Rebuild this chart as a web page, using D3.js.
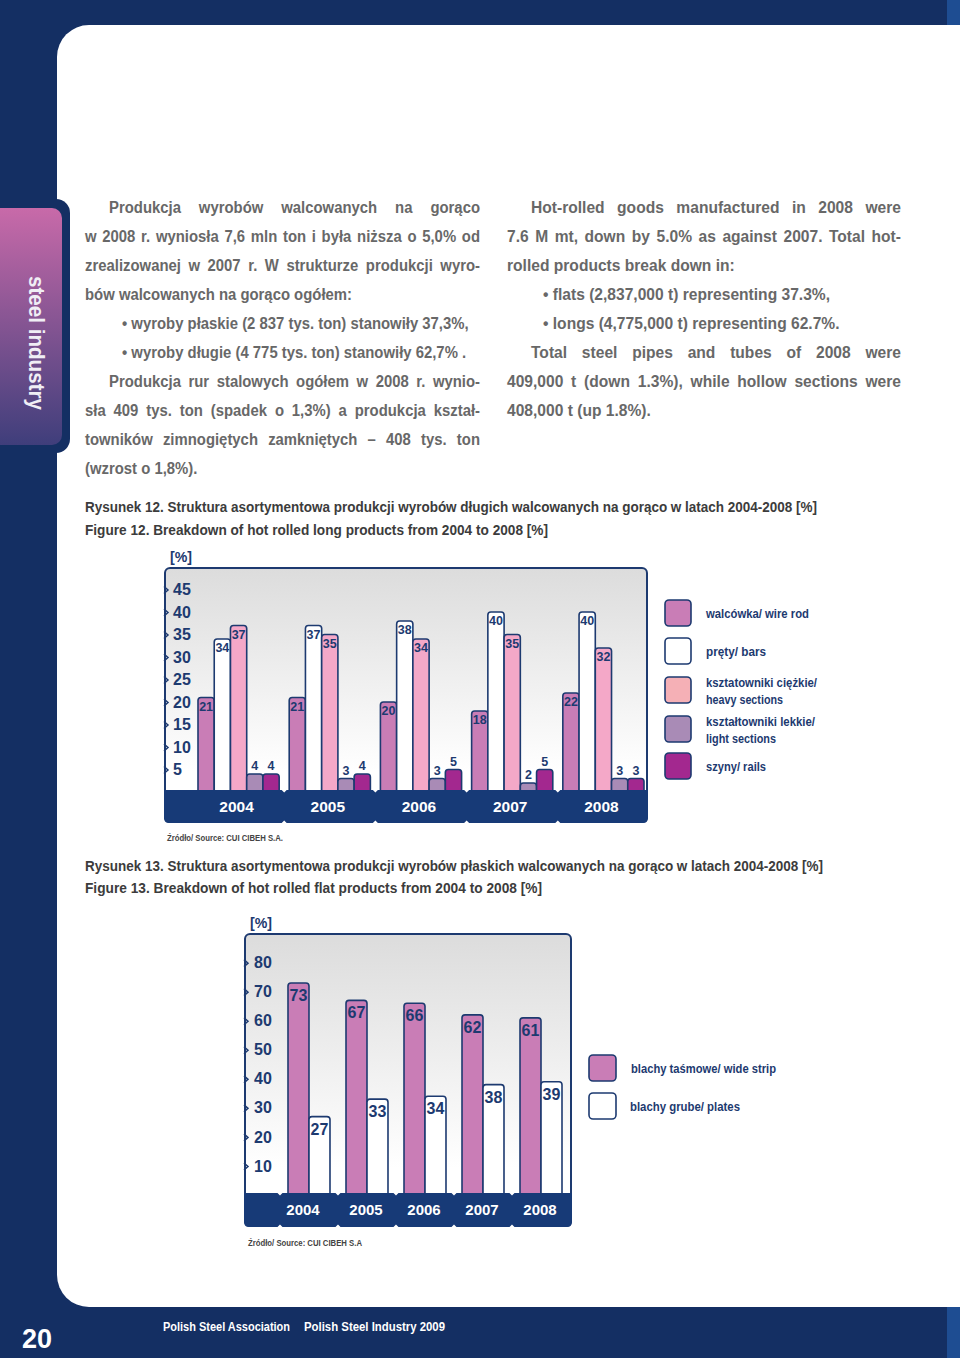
<!DOCTYPE html>
<html><head><meta charset="utf-8">
<script src="https://cdn.jsdelivr.net/npm/d3@7"></script>
<style>body{margin:0;background:#142f63} svg{display:block}</style>
</head><body><svg id="c" width="960" height="1358"></svg>
<script>
// ---------- DATA ----------
const years = ["2004","2005","2006","2007","2008"];
const longSeries = ["walcówka/ wire rod","pręty/ bars","ksztatowniki ciężkie/ heavy sections","kształtowniki lekkie/ light sections","szyny/ rails"];
const wireRod = [21,21,20,18,22];
const barsProd = [34,37,38,40,40];
const heavySections = [37,35,34,35,32];
const lightSections = [4,3,3,2,3];
const rails = [4,4,5,5,3];
const longTicks = [5,10,15,20,25,30,35,40,45];
const flatSeries = ["blachy taśmowe/ wide strip","blachy grube/ plates"];
const wideStrip = [73,67,66,62,61];
const plates = [27,33,34,38,39];
const flatTicks = [10,20,30,40,50,60,70,80];

const leftText = [
  ["Produkcja wyrobów walcowanych na gorąco", "ind", true],
  ["w 2008 r. wyniosła 7,6 mln ton i była niższa o 5,0% od", "", true],
  ["zrealizowanej w 2007 r. W strukturze produkcji wyro-", "", true],
  ["bów walcowanych na gorąco ogółem:", "", false],
  ["• wyroby płaskie (2 837 tys. ton) stanowiły 37,3%,", "bul", false],
  ["• wyroby długie (4 775 tys. ton) stanowiły 62,7% .", "bul", false],
  ["Produkcja rur stalowych ogółem w 2008 r. wynio-", "ind", true],
  ["sła 409 tys. ton (spadek o 1,3%) a produkcja kształ-", "", true],
  ["towników zimnogiętych zamkniętych – 408 tys. ton", "", true],
  ["(wzrost o 1,8%).", "", false]
];
const rightText = [
  ["Hot-rolled goods manufactured in 2008 were", "ind", true],
  ["7.6 M mt, down by 5.0% as against 2007. Total hot-", "", true],
  ["rolled products break down in:", "", false],
  ["• flats (2,837,000 t) representing 37.3%,", "bul", false],
  ["• longs (4,775,000 t) representing 62.7%.", "bul", false],
  ["Total steel pipes and tubes of 2008 were", "ind", true],
  ["409,000 t (down 1.3%), while hollow sections were", "", true],
  ["408,000 t (up 1.8%).", "", false]
];

// ---------- STYLE ----------
const F = "'Liberation Sans',Arial,sans-serif";
const BG = "#142f63", NAVY = "#1d3a70", BAND = "#173a77";
const longColors = ["#c97db6","#ffffff","#f4a8c8","#a98bb6","#a3288f"];
const legendColors1 = ["#c97db6","#ffffff","#f5b0b6","#a98bb6","#a3288f"];
const flatColors = ["#c97db6","#ffffff"];

const svg = d3.select("#c").style("font-family", F);
function fit(sel, w){ return sel.attr("textLength",w).attr("lengthAdjust","spacingAndGlyphs"); }
const defs = svg.append("defs");
const tg = defs.append("linearGradient").attr("id","tab").attr("x1",0).attr("y1",0).attr("x2",0).attr("y2",1);
tg.append("stop").attr("offset",0).attr("stop-color","#c86aa9");
tg.append("stop").attr("offset",1).attr("stop-color","#3f3e7b");
const fg = defs.append("linearGradient").attr("id","frame").attr("x1",0).attr("y1",0).attr("x2",0).attr("y2",1);
fg.append("stop").attr("offset",0).attr("stop-color","#dcdcdc");
fg.append("stop").attr("offset",0.8).attr("stop-color","#ffffff");

// page
svg.append("rect").attr("width",960).attr("height",1358).attr("fill",BG);
svg.append("rect").attr("x",947).attr("y",0).attr("width",13).attr("height",1358).attr("fill","#1e4d92");
svg.append("rect").attr("x",57).attr("y",25).attr("width",940).attr("height",1282).attr("rx",32).attr("fill","#fff");
// sidebar tab
svg.append("rect").attr("x",-20).attr("y",199).attr("width",90).attr("height",254).attr("rx",14).attr("fill",BG);
svg.append("rect").attr("x",-20).attr("y",208).attr("width",82).attr("height",237).attr("rx",10).attr("fill","url(#tab)");
fit(svg.append("text").attr("transform","translate(29,343) rotate(90)").attr("text-anchor","middle")
  .attr("font-size",22).attr("font-weight","bold").attr("fill","#f0eef5").text("steel industry"), 134);

// footer
svg.append("text").attr("x",22).attr("y",1348).attr("font-size",27).attr("font-weight","bold").attr("fill","#fff").text("20");
fit(svg.append("text").attr("x",163).attr("y",1331).attr("font-size",12.5).attr("font-weight","bold").attr("fill","#fff").text("Polish Steel Association"),127);
fit(svg.append("text").attr("x",304).attr("y",1331).attr("font-size",12.5).attr("font-weight","bold").attr("fill","#fff").text("Polish Steel Industry 2009"),141);

// ---------- BODY TEXT ----------
function column(lines, x0, x1, ind, bul, refs) {
  const g = svg.append("g").attr("font-size",17).attr("font-weight","bold").attr("fill","#686868");
  const ratios = refs.map(([idx, w]) => {
    const tmp = g.append("text").text(lines[idx][0]);
    const r = w / tmp.node().getComputedTextLength();
    tmp.remove();
    return r;
  });
  const sx = d3.mean(ratios);
  lines.forEach((l,i) => {
    const xs = l[1]==="ind" ? ind : (l[1]==="bul" ? bul : x0);
    const t = g.append("text").attr("transform",`translate(${xs},${212.5+29*i}) scale(${sx},1)`).text(l[0]);
    if (l[2]) {
      const w = t.node().getComputedTextLength();
      const n = l[0].split(" ").length-1;
      t.attr("word-spacing", ((x1-xs)/sx-w)/n);
    }
  });
}
column(leftText, 85, 480, 109, 122, [[3,260],[4,356]]);
column(rightText, 507, 901, 531, 543, [[2,226],[3,290]]);

// captions
function cap(txt, x, y, w) {
  fit(svg.append("text").attr("x",x).attr("y",y).attr("font-size",14.5).attr("font-weight","bold").attr("fill","#3c3c3c").text(txt), w);
}
cap("Rysunek 12. Struktura asortymentowa produkcji wyrobów długich walcowanych na gorąco w latach 2004-2008 [%]",85,512,732);
cap("Figure 12. Breakdown of hot rolled long products from 2004 to 2008 [%]",85,535,463);
cap("Rysunek 13. Struktura asortymentowa produkcji wyrobów płaskich walcowanych na gorąco w latach 2004-2008 [%]",85,871,738);
cap("Figure 13. Breakdown of hot rolled flat products from 2004 to 2008 [%]",85,893,457);

function topRounded(x,y,w,h,r){
  r = Math.min(r, h);
  return `M${x},${y+h}V${y+r}Q${x},${y} ${x+r},${y}H${x+w-r}Q${x+w},${y} ${x+w},${y+r}V${y+h}Z`;
}
function bottomBand(x0,x1,yt,yb,r){
  return `M${x0},${yt}H${x1}V${yb-r}Q${x1},${yb} ${x1-r},${yb}H${x0+r}Q${x0},${yb} ${x0},${yb-r}Z`;
}
function notch(sx, yt, yb){
  return `M${sx-2.5},${yt}L${sx},${yt+2.5}L${sx+2.5},${yt}Z M${sx-2.5},${yb}L${sx},${yb-2.5}L${sx+2.5},${yb}Z`;
}

// ---------- CHART 1 ----------
(function(){
  const L=165,R=647,T=568,B=822,BT=790;
  const y = d3.scaleLinear().domain([0,50]).range([792,567]);
  const x = d3.scaleBand().domain(years).range([198,644]).paddingInner(0.11);
  const xs = d3.scaleBand().domain(d3.range(5)).range([0,x.bandwidth()]);
  const series = [wireRod,barsProd,heavySections,lightSections,rails];
  fit(svg.append("text").attr("x",170).attr("y",562).attr("font-size",14.5).attr("font-weight","bold").attr("fill",NAVY).text("[%]"),22);
  svg.append("rect").attr("x",L).attr("y",T).attr("width",R-L).attr("height",B-T).attr("rx",5)
    .attr("fill","url(#frame)").attr("stroke",NAVY).attr("stroke-width",2);
  const ax = svg.append("g").attr("transform",`translate(${L},0)`)
    .call(d3.axisRight(y).tickValues(longTicks).tickSize(0).tickPadding(8));
  ax.select(".domain").remove();
  ax.selectAll("text").attr("font-size",16).attr("font-weight","bold").attr("fill",NAVY).attr("font-family",F);
  ax.selectAll(".tick").append("path").attr("d","M-1,-3.5L3,0L-1,3.5").attr("fill","none").attr("stroke",NAVY).attr("stroke-width",1.5);
  const g = svg.append("g");
  years.forEach((yr,i) => {
    series.forEach((s,j) => {
      const v = s[i], bx = x(yr)+xs(j), bw = xs.bandwidth(), by = y(v);
      g.append("path").attr("d",topRounded(bx,by,bw,BT+1-by,3)).attr("fill",longColors[j]).attr("stroke",NAVY).attr("stroke-width",1.6);
      g.append("text").attr("x",bx+bw/2).attr("y", v>=10 ? by+13 : by-4).attr("text-anchor","middle")
        .attr("font-size",12.5).attr("font-weight","bold").attr("fill",NAVY).text(v);
    });
  });
  svg.append("path").attr("d",bottomBand(L-1,R+1,BT,B+1,5)).attr("fill",BAND);
  years.forEach((yr,i) => {
    svg.append("text").attr("x",x(yr)+x.bandwidth()/2-2).attr("y",812).attr("text-anchor","middle")
      .attr("font-size",15.5).attr("font-weight","bold").attr("fill","#fff").text(yr);
    if (i>0) {
      const sx = x(yr) - (x.step()-x.bandwidth())/2;
      svg.append("path").attr("d",notch(sx,BT,B+1)).attr("fill","#fff");
    }
  });
  fit(svg.append("text").attr("x",167).attr("y",841).attr("font-size",9).attr("font-weight","bold").attr("fill","#444").text("Źródło/ Source: CUI CIBEH S.A."),116);
  // legend
  const ly = [600,638,677,716,753];
  const lt = [["walcówka/ wire rod"],["pręty/ bars"],["ksztatowniki ciężkie/","heavy sections"],["kształtowniki lekkie/","light sections"],["szyny/ rails"]];
  const lw = [[103],[60],[111,77],[109,70],[60]];
  longSeries.forEach((s,j) => {
    svg.append("rect").attr("x",665).attr("y",ly[j]).attr("width",26).attr("height",26).attr("rx",4)
      .attr("fill",legendColors1[j]).attr("stroke",NAVY).attr("stroke-width",1.6);
    const lines = lt[j];
    lines.forEach((ln,k) => {
      fit(svg.append("text").attr("font-size",13.5).attr("font-weight","bold").attr("fill",NAVY)
        .attr("x",706).attr("y", ly[j]+18 + (lines.length>1 ? (k*17-8.5) : 0)).text(ln), lw[j][k]);
    });
  });
})();

// ---------- CHART 2 ----------
(function(){
  const L=245,R=571,T=934,B=1226,BT=1193;
  const y = d3.scaleLinear().domain([0,90]).range([1195,933.6]);
  const x = d3.scaleBand().domain(years).range([288,562]).paddingInner(0.276);
  const xs = d3.scaleBand().domain(d3.range(2)).range([0,x.bandwidth()]);
  const series = [wideStrip, plates];
  fit(svg.append("text").attr("x",250).attr("y",928).attr("font-size",14.5).attr("font-weight","bold").attr("fill",NAVY).text("[%]"),22);
  svg.append("rect").attr("x",L).attr("y",T).attr("width",R-L).attr("height",B-T).attr("rx",5)
    .attr("fill","url(#frame)").attr("stroke",NAVY).attr("stroke-width",2);
  const ax = svg.append("g").attr("transform",`translate(${L},0)`)
    .call(d3.axisRight(y).tickValues(flatTicks).tickSize(0).tickPadding(9));
  ax.select(".domain").remove();
  ax.selectAll("text").attr("font-size",16).attr("font-weight","bold").attr("fill",NAVY).attr("font-family",F);
  ax.selectAll(".tick").append("path").attr("d","M-1,-3.5L3,0L-1,3.5").attr("fill","none").attr("stroke",NAVY).attr("stroke-width",1.5);
  const g = svg.append("g");
  years.forEach((yr,i) => {
    series.forEach((s,j) => {
      const v = s[i], bx = x(yr)+xs(j), bw = xs.bandwidth(), by = y(v);
      g.append("path").attr("d",topRounded(bx,by,bw,BT+1-by,3)).attr("fill",flatColors[j]).attr("stroke",NAVY).attr("stroke-width",1.6);
      g.append("text").attr("x",bx+bw/2).attr("y",by+18).attr("text-anchor","middle")
        .attr("font-size",16).attr("font-weight","bold").attr("fill",NAVY).text(v);
    });
  });
  svg.append("path").attr("d",bottomBand(L-1,R+1,BT,B+1,5)).attr("fill",BAND);
  years.forEach((yr,i) => {
    svg.append("text").attr("x",x(yr)+x.bandwidth()/2-(i===0?6:1)).attr("y",1215).attr("text-anchor","middle")
      .attr("font-size",15).attr("font-weight","bold").attr("fill","#fff").text(yr);
    const sx = x(yr) - (x.step()-x.bandwidth())/2;
    svg.append("path").attr("d",notch(sx,BT,B+1)).attr("fill","#fff");
  });
  fit(svg.append("text").attr("x",248).attr("y",1246).attr("font-size",9).attr("font-weight","bold").attr("fill","#444").text("Źródło/ Source: CUI CIBEH S.A"),114);
  const ly = [1055,1093];
  const lw = [145,110];
  flatSeries.forEach((s,j) => {
    svg.append("rect").attr("x",589).attr("y",ly[j]).attr("width",27).attr("height",26).attr("rx",4)
      .attr("fill",flatColors[j]).attr("stroke",NAVY).attr("stroke-width",1.6);
    fit(svg.append("text").attr("x",j?630:631).attr("y",ly[j]+18).attr("font-size",13.5).attr("font-weight","bold").attr("fill",NAVY).text(s), lw[j]);
  });
})();
</script></body></html>
